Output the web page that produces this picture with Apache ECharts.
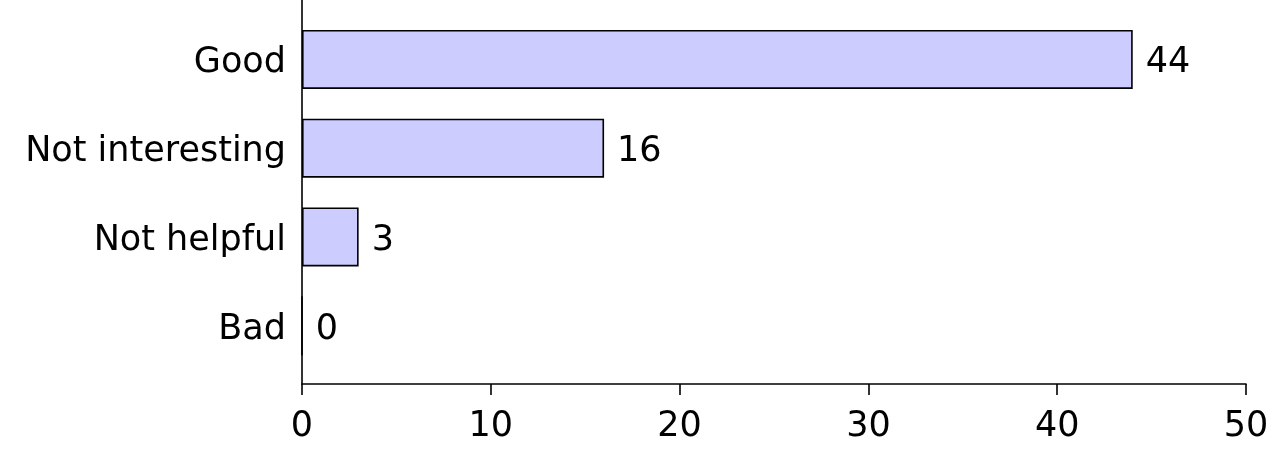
<!DOCTYPE html>
<html>
<head>
<meta charset="utf-8">
<script src="https://cdn.jsdelivr.net/npm/echarts@6/dist/echarts.min.js"></script>
<style>html,body{margin:0;padding:0;background:#fff;}#c{width:1288px;height:452px;}</style>
</head>
<body>
<div id="c"></div>
<script>
const categories = ["Good", "Not interesting", "Not helpful", "Bad"];
const counts = [44, 16, 3, 0];
const xTicks = [0, 10, 20, 30, 40, 50];

const FONT = "DejaVu Sans";
const chart = echarts.init(document.getElementById('c'), null, {renderer: 'canvas'});
chart.setOption({
  animation: false,
  backgroundColor: '#ffffff',
  grid: [
    {left: 302, right: 42, top: 0, bottom: 68},
    {left: 302, right: 42, top: 15, bottom: 82}
  ],
  xAxis: [
    {
      gridIndex: 0, type: 'value', min: xTicks[0], max: xTicks[xTicks.length - 1], interval: 10,
      axisLine: {show: true, lineStyle: {color: '#000', width: 1.6}},
      axisTick: {show: true, inside: false, length: 11, lineStyle: {color: '#000', width: 1.6}},
      axisLabel: {color: '#000', fontFamily: FONT, fontSize: 35, margin: 25},
      splitLine: {show: false}
    },
    {
      gridIndex: 1, type: 'value', min: xTicks[0], max: xTicks[xTicks.length - 1],
      show: false
    }
  ],
  yAxis: [
    {
      gridIndex: 0, type: 'value', min: 0, max: 1,
      axisLine: {show: true, lineStyle: {color: '#000', width: 1.6}},
      axisTick: {show: false}, axisLabel: {show: false}, splitLine: {show: false}
    },
    {
      gridIndex: 1, type: 'category', data: categories, inverse: true,
      axisLine: {show: false}, axisTick: {show: false},
      axisLabel: {color: '#000', fontFamily: FONT, fontSize: 35, margin: 16, verticalAlign: 'top', lineHeight: 8},
      splitLine: {show: false}
    }
  ],
  series: [{
    type: 'bar', xAxisIndex: 1, yAxisIndex: 1,
    data: counts, barWidth: 59,
    itemStyle: {color: '#ccccff', borderColor: '#000', borderWidth: 1.6},
    label: {show: true, position: 'right', distance: 13, offset: [0, 4], color: '#000', fontFamily: FONT, fontSize: 35}
  }]
});
</script>
</body>
</html>
